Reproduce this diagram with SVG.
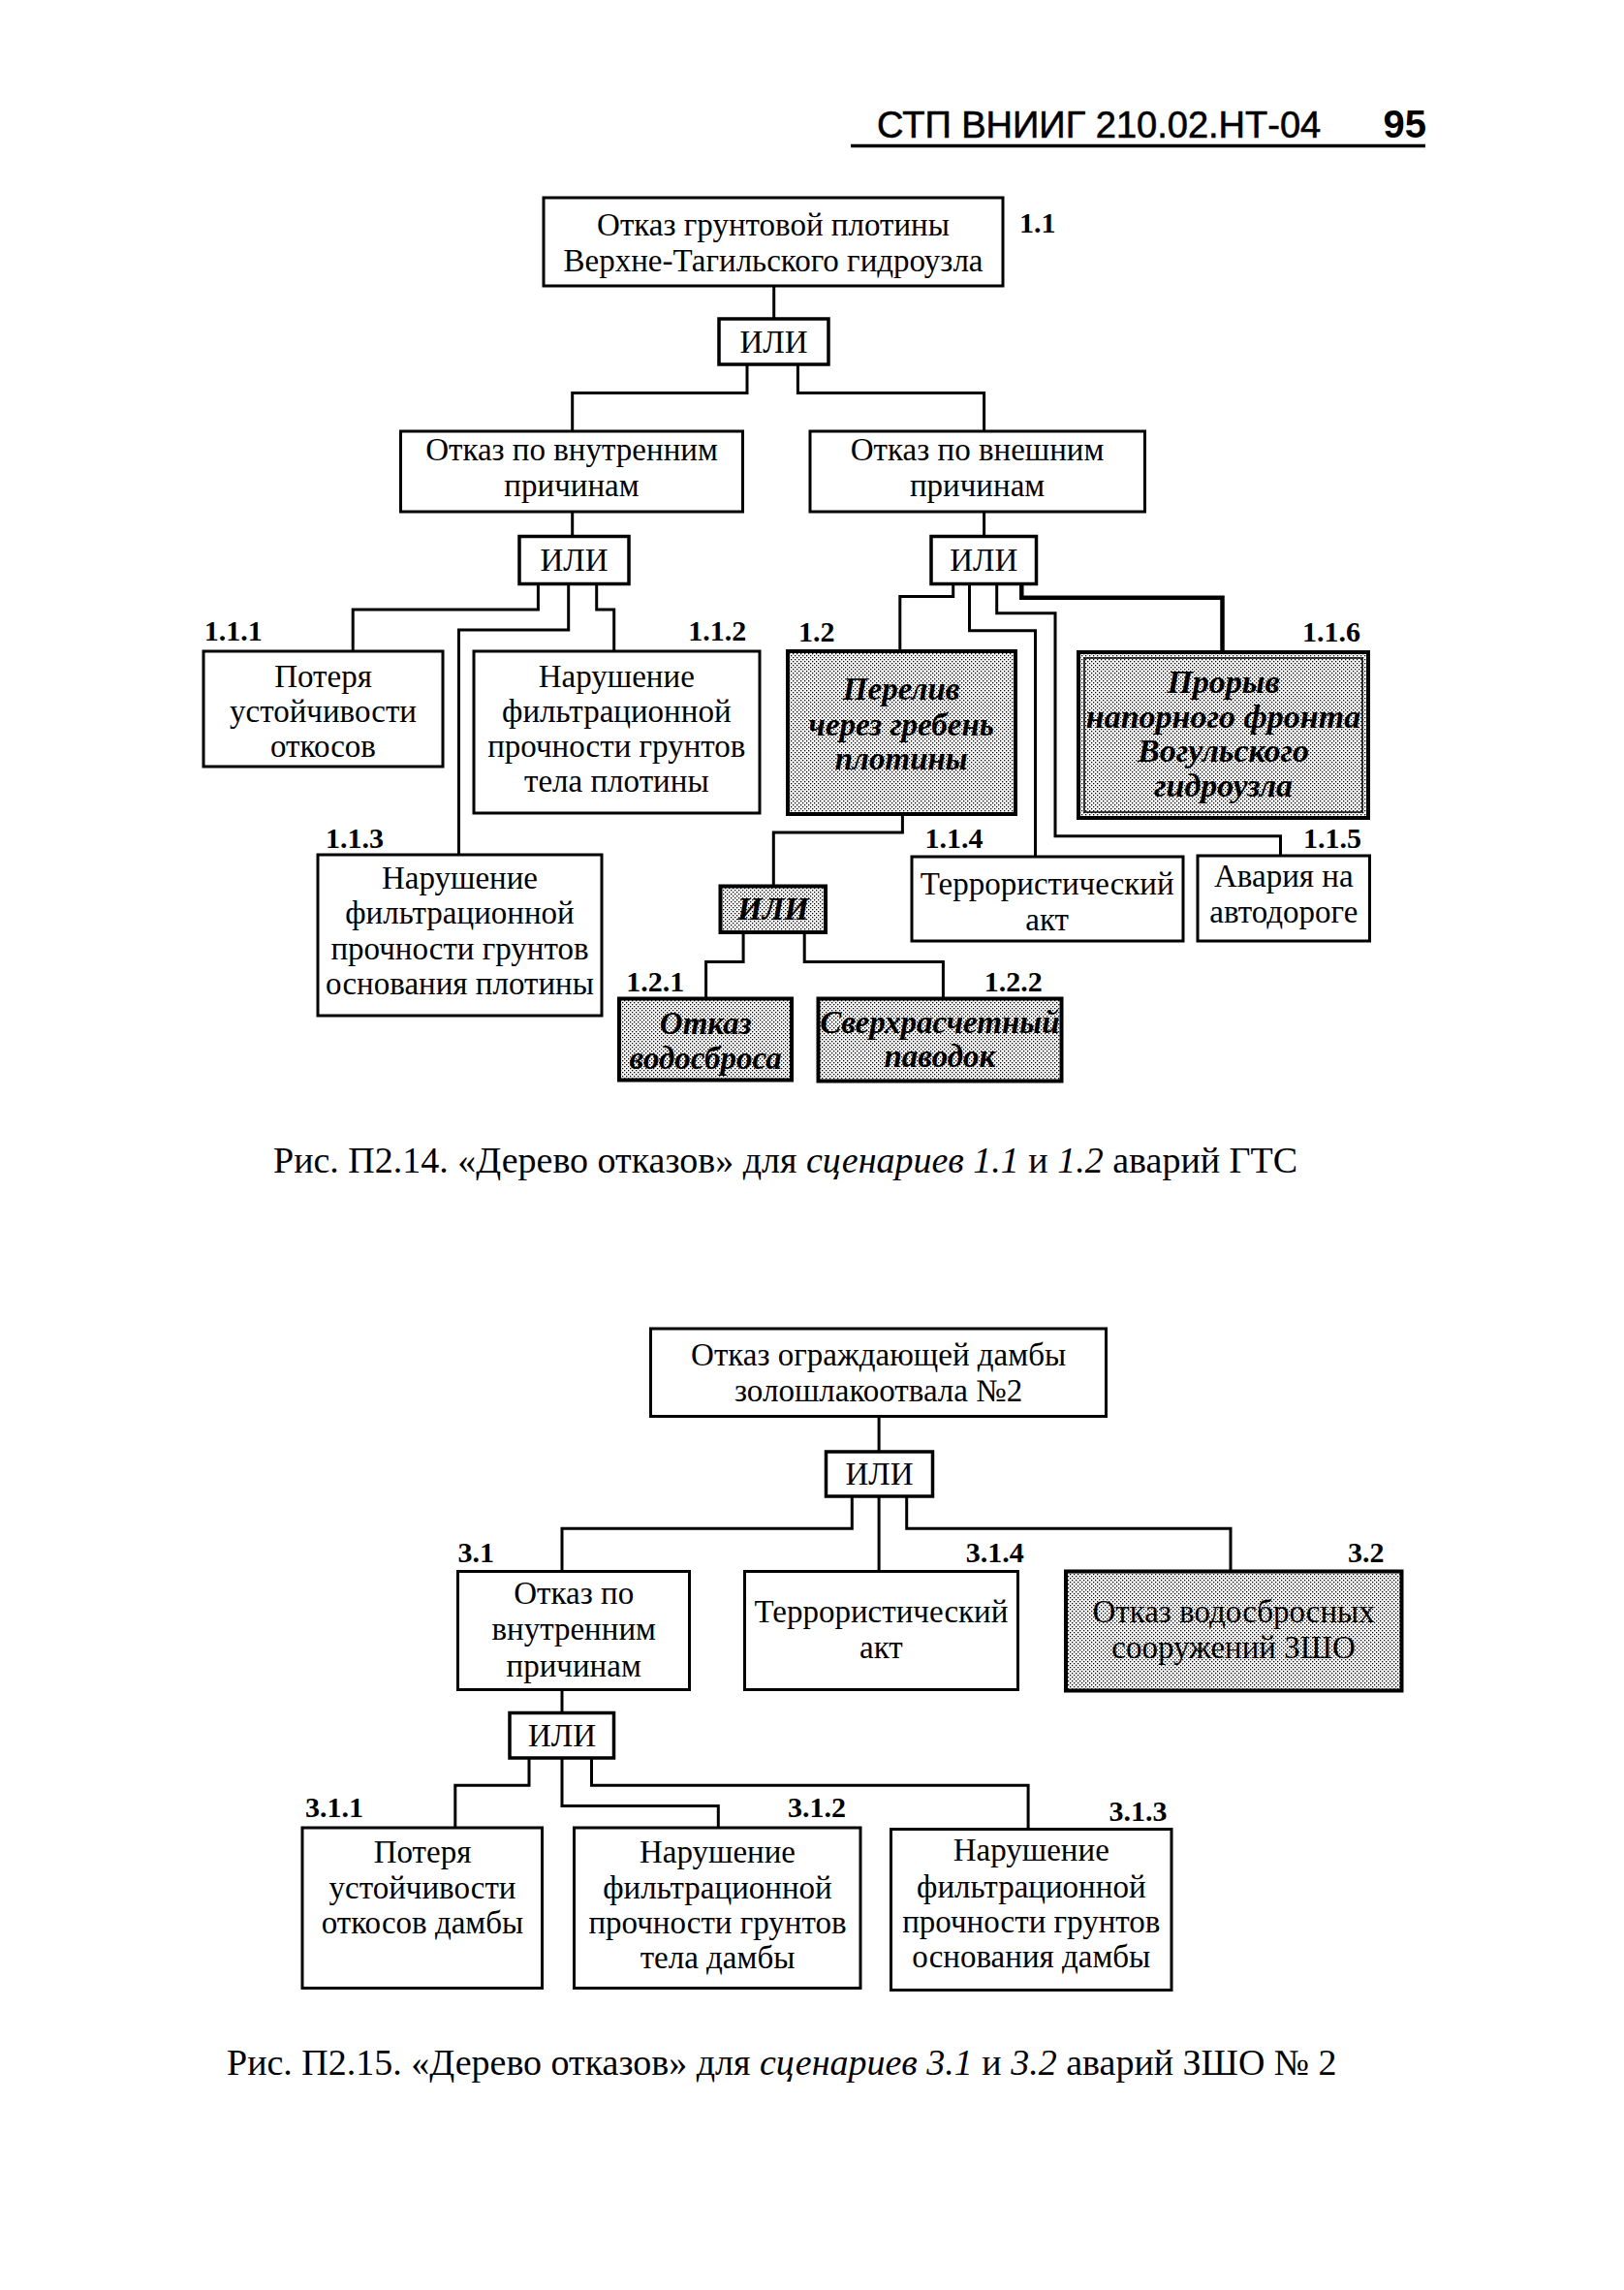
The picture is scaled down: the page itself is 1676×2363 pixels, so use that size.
<svg xmlns="http://www.w3.org/2000/svg" width="1676" height="2363" viewBox="0 0 1676 2363">
<defs>
<pattern id="dots" width="4" height="4" patternUnits="userSpaceOnUse">
<rect width="4" height="4" fill="#ffffff"/>
<rect x="0" y="0" width="1.3" height="1.3" fill="#000000"/>
<rect x="2" y="2" width="1.3" height="1.3" fill="#000000"/>
</pattern>
<style>
.box{fill:#fff;stroke:#000;stroke-width:3}
.gate{fill:#fff;stroke:#000;stroke-width:3.5}
.shade{fill:url(#dots);stroke:#000;stroke-width:4}
.conn path{fill:none;stroke:#000;stroke-width:3}
.conn path.thick{stroke-width:4.5}
.t{font-family:"Liberation Serif","Times New Roman",serif;font-size:33px;text-anchor:middle;fill:#000}
.bi{font-weight:bold;font-style:italic}
.big{font-size:34px}
.g{font-size:33px}
.lbl{font-family:"Liberation Serif","Times New Roman",serif;font-size:30px;font-weight:bold;fill:#000}
.end{text-anchor:end}
.cap{font-family:"Liberation Serif","Times New Roman",serif;font-size:38px;fill:#000}
.hdr{font-family:"Liberation Sans",Arial,sans-serif;font-size:38px;fill:#000;stroke:#000;stroke-width:0.6}
.hdrb{font-size:40px;font-weight:bold;stroke-width:0}
</style>
</defs>
<rect width="1676" height="2363" fill="#fff"/>

<g id="header">
<text class="hdr" x="905" y="142">СТП ВНИИГ 210.02.НТ-04</text>
<text class="hdr hdrb end" x="1472" y="142">95</text>
<line x1="878" y1="150.5" x2="1471" y2="150.5" stroke="#000" stroke-width="3.5"/>
</g>

<g class="conn" id="connectors">
<path d="M798.7 295V329"/>
<path d="M771 375.7V405.4H590.7V444.8"/>
<path d="M823.4 375.7V405.4H1015.6V444.8"/>
<path d="M590.7 527.7V553.5"/>
<path d="M1015.6 527.7V553.5"/>
<path d="M555.4 602.3V628.9H364.2V672"/>
<path d="M586.7 602.3V649.9H473.5V882"/>
<path d="M615.7 602.3V628.9H633.7V672"/>
<path d="M983.7 602.3V615.5H928.8V672"/>
<path d="M1000.5 602.3V650.8H1068.5V884"/>
<path d="M1028.7 602.3V632.7H1089V862.8H1321.5V883.2"/>
<path class="thick" d="M1054.3 602.3V616.7H1261.5V673"/>
<path d="M931.4 840V859.1H798.3V914.4"/>
<path d="M767.1 962V992.5H728.6V1030.5"/>
<path d="M830.2 962V992.5H973.4V1030.5"/>
<path d="M907.1 1461.4V1498"/>
<path d="M879.3 1544V1577.2H580V1621.6"/>
<path d="M907.1 1544V1621.6"/>
<path d="M935.7 1544V1577.2H1270V1621.6"/>
<path d="M580 1743.5V1767.5"/>
<path d="M546 1814V1842.2H469.8V1886"/>
<path d="M580 1814V1863.4H741.3V1886"/>
<path d="M610.5 1814V1842.2H1061.1V1887.5"/>
</g>

<g id="n1_1">
<rect class="box" x="561" y="204" width="474" height="91"/>
<text class="t" x="798" y="242.5">Отказ грунтовой плотины</text>
<text class="t" x="798" y="280">Верхне-Тагильского гидроузла</text>
<text class="lbl" x="1052" y="240">1.1</text>
</g>
<g id="gate1">
<rect class="gate" x="742" y="329" width="113" height="47"/>
<text class="t g" x="798.5" y="363.5">ИЛИ</text>
</g>
<g id="n_internal">
<rect class="box" x="413.5" y="445" width="353" height="83"/>
<text class="t" x="590" y="475.4">Отказ по внутренним</text>
<text class="t" x="590" y="512">причинам</text>
</g>
<g id="n_external">
<rect class="box" x="836" y="445" width="345.5" height="83"/>
<text class="t" x="1008.6" y="475.4">Отказ по внешним</text>
<text class="t" x="1008.6" y="512">причинам</text>
</g>
<g id="gateL">
<rect class="gate" x="536" y="553.5" width="113" height="49"/>
<text class="t g" x="592.5" y="589">ИЛИ</text>
</g>
<g id="gateR">
<rect class="gate" x="961" y="553.5" width="108.5" height="49"/>
<text class="t g" x="1015.2" y="589">ИЛИ</text>
</g>
<g id="n1_1_1">
<rect class="box" x="210" y="672" width="247" height="119"/>
<text class="t" x="333.5" y="709.4">Потеря</text>
<text class="t" x="333.5" y="745.4">устойчивости</text>
<text class="t" x="333.5" y="781.4">откосов</text>
<text class="lbl" x="210.7" y="661.4">1.1.1</text>
</g>
<g id="n1_1_2">
<rect class="box" x="489" y="672" width="295" height="167"/>
<text class="t" x="636.3" y="708.9">Нарушение</text>
<text class="t" x="636.3" y="744.9">фильтрационной</text>
<text class="t" x="636.3" y="781">прочности грунтов</text>
<text class="t" x="636.3" y="817.1">тела плотины</text>
<text class="lbl end" x="770.3" y="661.4">1.1.2</text>
</g>
<g id="n1_1_3">
<rect class="box" x="328" y="882" width="293" height="166"/>
<text class="t" x="474.5" y="916.6">Нарушение</text>
<text class="t" x="474.5" y="953.1">фильтрационной</text>
<text class="t" x="474.5" y="989.7">прочности грунтов</text>
<text class="t" x="474.5" y="1026.2">основания плотины</text>
<text class="lbl" x="336" y="874.5">1.1.3</text>
</g>
<g id="n1_2">
<rect class="shade" x="813" y="672" width="235" height="168"/>
<text class="t bi" x="930.2" y="722.2">Перелив</text>
<text class="t bi" x="930.2" y="758.7">через гребень</text>
<text class="t bi" x="930.2" y="794.2">плотины</text>
<text class="lbl" x="824" y="662">1.2</text>
</g>
<g id="n1_1_6">
<rect class="shade" x="1113" y="673" width="299" height="171" stroke-width="5"/>
<rect x="1119" y="679" width="287" height="159" fill="none" stroke="#000" stroke-width="1.5"/>
<text class="t bi big" x="1262.5" y="715.3">Прорыв</text>
<text class="t bi big" x="1262.5" y="750.8">напорного фронта</text>
<text class="t bi big" x="1262.5" y="786.3">Вогульского</text>
<text class="t bi big" x="1262.5" y="821.9">гидроузла</text>
<text class="lbl end" x="1404" y="662">1.1.6</text>
</g>
<g id="n1_1_4">
<rect class="box" x="941" y="884" width="280" height="87"/>
<text class="t" x="1080.7" y="922.5">Террористический</text>
<text class="t" x="1080.7" y="960">акт</text>
<text class="lbl" x="954.5" y="874.5">1.1.4</text>
</g>
<g id="n1_1_5">
<rect class="box" x="1236" y="883" width="177.5" height="88"/>
<text class="t" x="1324.8" y="914.7">Авария на</text>
<text class="t" x="1324.8" y="952.2">автодороге</text>
<text class="lbl end" x="1404.9" y="874.5">1.1.5</text>
</g>
<g id="gate1_2">
<rect class="shade" x="743.5" y="914.5" width="108.5" height="47.5"/>
<text class="t g bi" x="798" y="949">ИЛИ</text>
</g>
<g id="n1_2_1">
<rect class="shade" x="639" y="1030.5" width="178" height="84"/>
<text class="t bi" x="728.2" y="1066.6">Отказ</text>
<text class="t bi" x="728.2" y="1103.2">водосброса</text>
<text class="lbl" x="646.2" y="1022.9">1.2.1</text>
</g>
<g id="n1_2_2">
<rect class="shade" x="844.5" y="1030.5" width="251" height="85"/>
<text class="t bi" x="969.9" y="1065.7">Сверхрасчетный</text>
<text class="t bi" x="969.9" y="1101.2">паводок</text>
<text class="lbl end" x="1075.7" y="1022.9">1.2.2</text>
</g>

<g id="caption1">
<text class="cap" x="282" y="1210.3">Рис. П2.14. «Дерево отказов» для <tspan font-style="italic">сценариев 1.1</tspan> и <tspan font-style="italic">1.2</tspan> аварий ГТС</text>
</g>

<g id="n_top2">
<rect class="box" x="671.5" y="1371" width="470" height="90.5"/>
<text class="t" x="906.6" y="1409.1">Отказ ограждающей дамбы</text>
<text class="t" x="906.6" y="1445.7">золошлакоотвала №2</text>
</g>
<g id="gate2">
<rect class="gate" x="852.5" y="1498" width="110" height="46"/>
<text class="t g" x="907.5" y="1532">ИЛИ</text>
</g>
<g id="n3_1">
<rect class="box" x="472.5" y="1621.5" width="239" height="122"/>
<text class="t" x="592.2" y="1654.9">Отказ по</text>
<text class="t" x="592.2" y="1692.4">внутренним</text>
<text class="t" x="592.2" y="1729.9">причинам</text>
<text class="lbl" x="472.6" y="1612.3">3.1</text>
</g>
<g id="n3_1_4">
<rect class="box" x="768.5" y="1621.5" width="282" height="122"/>
<text class="t" x="909.4" y="1673.7">Террористический</text>
<text class="t" x="909.4" y="1711.2">акт</text>
<text class="lbl end" x="1056.8" y="1612.3">3.1.4</text>
</g>
<g id="n3_2">
<rect class="shade" x="1100" y="1621.5" width="346.5" height="123"/>
<text class="t" x="1273.1" y="1673.7">Отказ водосбросных</text>
<text class="t" x="1273.1" y="1711.2">сооружений ЗШО</text>
<text class="lbl end" x="1428.5" y="1612.3">3.2</text>
</g>
<g id="gate3_1">
<rect class="gate" x="526" y="1767.5" width="107.5" height="46.5"/>
<text class="t g" x="580" y="1801.5">ИЛИ</text>
</g>
<g id="n3_1_1">
<rect class="box" x="312" y="1886" width="247.5" height="165.5"/>
<text class="t" x="436" y="1922.4">Потеря</text>
<text class="t" x="436" y="1958.9">устойчивости</text>
<text class="t" x="436" y="1995.4">откосов дамбы</text>
<text class="lbl" x="315" y="1875.3">3.1.1</text>
</g>
<g id="n3_1_2">
<rect class="box" x="592.5" y="1886" width="295.5" height="165.5"/>
<text class="t" x="740.5" y="1922.4">Нарушение</text>
<text class="t" x="740.5" y="1958.9">фильтрационной</text>
<text class="t" x="740.5" y="1995.4">прочности грунтов</text>
<text class="t" x="740.5" y="2030.9">тела дамбы</text>
<text class="lbl end" x="873" y="1875.3">3.1.2</text>
</g>
<g id="n3_1_3">
<rect class="box" x="919.5" y="1887.5" width="289.5" height="166"/>
<text class="t" x="1064.3" y="1920.4">Нарушение</text>
<text class="t" x="1064.3" y="1958">фильтрационной</text>
<text class="t" x="1064.3" y="1994.4">прочности грунтов</text>
<text class="t" x="1064.3" y="2030">основания дамбы</text>
<text class="lbl end" x="1204.6" y="1878.9">3.1.3</text>
</g>

<g id="caption2">
<text class="cap" x="234" y="2141">Рис. П2.15. «Дерево отказов» для <tspan font-style="italic">сценариев 3.1</tspan> и <tspan font-style="italic">3.2</tspan> аварий ЗШО № 2</text>
</g>
</svg>
